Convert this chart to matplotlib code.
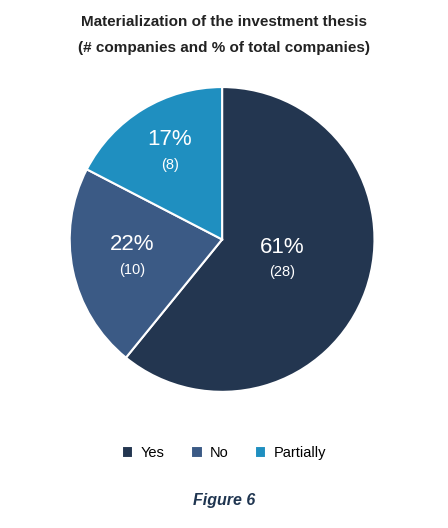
import matplotlib
matplotlib.use("Agg")
import matplotlib.pyplot as plt
import numpy as np

plt.rcParams['font.family'] = ['Liberation Sans', 'DejaVu Sans']

labels = ["Yes", "No", "Partially"]
counts = [28, 10, 8]
pcts = [61, 22, 17]
colors = ["#233650", "#3b5a85", "#1f8fc0"]
label_r = [0.42, 0.6, 0.66]

fig = plt.figure(figsize=(4.48, 5.28), dpi=100)
ax = fig.add_axes([0.152, 0.255, 0.6875, 0.583])
wedges, _ = ax.pie(counts, colors=colors, startangle=90, counterclock=False,
                   wedgeprops=dict(edgecolor="white", linewidth=1.5))
ax.set_xlim(-1.01, 1.01)
ax.set_ylim(-1.01, 1.01)
ax.set_aspect("equal")
for w, p, c, r in zip(wedges, pcts, counts, label_r):
    a = np.deg2rad((w.theta1 + w.theta2) / 2)
    x, y = r * np.cos(a), r * np.sin(a)
    ax.text(x, y + 0.02, f"{p}%", color="white", fontsize=16, ha="center", va="bottom")
    ax.text(x, y - 0.03, f"({c})", color="white", fontsize=10.5, ha="center", va="top")

fig.text(0.5, 0.958, "Materialization of the investment thesis", ha="center", va="center",
         fontsize=11, fontweight="bold", color="#222222")
fig.text(0.5, 0.909, "(# companies and % of total companies)", ha="center", va="center",
         fontsize=11, fontweight="bold", color="#222222")
fig.legend(wedges, labels, loc="center", bbox_to_anchor=(0.5, 0.142), ncol=3, frameon=False,
           fontsize=10.5, handlelength=0.8, handleheight=0.8, columnspacing=1.8, handletextpad=0.5)
fig.text(0.5, 0.053, "Figure 6", ha="center", va="center", fontsize=11.5,
         fontweight="bold", fontstyle="italic", color="#1f3550")
fig.savefig("out.png", dpi=100, facecolor="white")
